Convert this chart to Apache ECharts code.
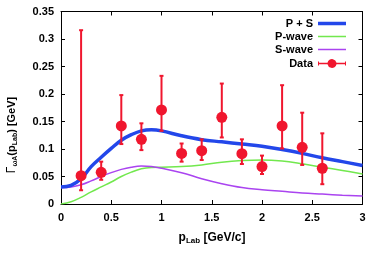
<!DOCTYPE html>
<html><head><meta charset="utf-8">
<script src="https://cdn.jsdelivr.net/npm/echarts@6/dist/echarts.min.js"></script>
<style>html,body{margin:0;padding:0;background:#fff}#c{width:381px;height:260px}</style>
</head><body><div id="c"></div>
<script>
const curveX = [0,0.1,0.2,0.3,0.4,0.5,0.6,0.7,0.8,0.9,1.0,1.2,1.4,1.6,1.8,2.0,2.2,2.4,2.6,2.8,3.0];
const sumWave = [0.031,0.034,0.046,0.068,0.085,0.101,0.116,0.126,0.133,0.135,0.133,0.124,0.117,0.113,0.109,0.105,0.099,0.092,0.084,0.077,0.070];
const pWave = [0.000,0.004,0.012,0.022,0.031,0.040,0.050,0.058,0.064,0.0665,0.067,0.068,0.071,0.076,0.079,0.080,0.078,0.073,0.067,0.061,0.0545];
const sWave = [0.030,0.031,0.035,0.042,0.050,0.057,0.063,0.067,0.069,0.068,0.065,0.057,0.046,0.037,0.030,0.026,0.023,0.020,0.018,0.016,0.0145];
const dataX = [0.2,0.4,0.6,0.8,1.0,1.2,1.4,1.6,1.8,2.0,2.2,2.4,2.6];
const dataY = [0.0515,0.0576,0.142,0.1176,0.171,0.092,0.097,0.1576,0.0915,0.068,0.142,0.103,0.065];
const dataLow = [0.025,0.044,0.109,0.098,0.133,0.077,0.080,0.121,0.0727,0.0545,0.101,0.071,0.036];
const dataHigh = [0.316,0.077,0.198,0.1467,0.233,0.110,0.1176,0.219,0.1176,0.088,0.216,0.166,0.1285];
const xTicks = ['0','0.5','1','1.5','2','2.5','3'];
const yTicks = ['0','0.05','0.1','0.15','0.2','0.25','0.3','0.35'];

const BLUE='#2347ea', GREEN='#72e84e', PURPLE='#aa44f0', RED='#f0162e';
const zip=(a,b)=>a.map((v,i)=>[v,b[i]]);
const font='"Liberation Sans", Arial, sans-serif';
const chart = echarts.init(document.getElementById('c'));
const axisCommon = {axisLine:{show:true,onZero:false,lineStyle:{color:'#000',width:1}},
  axisTick:{show:true,inside:true,length:4,lineStyle:{color:'#000'}},splitLine:{show:false}};
const BOX=' M0,0 L0,0.01 Z M28,10 L28,9.99 Z';
function lineIcon(t){const a=5-t/2,b=5+t/2;return 'path://M0,'+a+' L28,'+a+' L28,'+b+' L0,'+b+' Z'+BOX;}
function legendItem(name, top, icon, color){
  return {orient:'vertical',right:30,top:top,align:'right',itemWidth:28,itemHeight:10,itemGap:0,
    textStyle:{fontFamily:font,fontWeight:'bold',fontSize:11,color:'#000'},selectedMode:false,
    data:[{name:name,icon:icon,itemStyle:{color:color,opacity:1}}]};
}
chart.setOption({
  animation:false,
  grid:{left:61,right:18.5,top:11.5,bottom:56},
  xAxis:[Object.assign({type:'value',min:0,max:3,interval:0.5,
    axisLabel:{color:'#000',fontFamily:font,fontWeight:'bold',fontSize:11,margin:8,
      formatter:v=>xTicks[Math.round(v/0.5)]}},axisCommon),
    Object.assign({type:'value',position:'top',min:0,max:3,interval:0.5,axisLabel:{show:false}},axisCommon)],
  yAxis:[Object.assign({type:'value',min:0,max:0.35,interval:0.05,
    axisLabel:{color:'#000',fontFamily:font,fontWeight:'bold',fontSize:11,margin:7,
      formatter:v=>yTicks[Math.round(v/0.05)]}},axisCommon),
    Object.assign({type:'value',position:'right',min:0,max:0.35,interval:0.05,axisLabel:{show:false}},axisCommon)],
  legend:[
    legendItem('P + S',13,lineIcon(3.5),BLUE),
    legendItem('P-wave',26,lineIcon(1.6),GREEN),
    legendItem('S-wave',39,lineIcon(1.6),PURPLE),
    legendItem('Data',53,'path://M0,3 L1,3 L1,4.2 L9.5,4.2 A4.6,4.6 0 0 1 18.5,4.2 L27,4.2 L27,3 L28,3 L28,7 L27,7 L27,5.8 L18.5,5.8 A4.6,4.6 0 0 1 9.5,5.8 L1,5.8 L1,7 L0,7 Z'+BOX,RED)
  ],
  graphic:[
    {type:'text',x:12,y:135,rotation:Math.PI/2,style:{
      text:'{g|Γ}{s|ωA}{b|(p}{s|Lab}{b|) [GeV]}',align:'center',verticalAlign:'middle',
      rich:{g:{fontFamily:font,fontSize:12,fill:'#000'},b:{fontFamily:font,fontWeight:'bold',fontSize:11,fill:'#000'},
        s:{fontFamily:font,fontWeight:'bold',fontSize:7,fill:'#000',verticalAlign:'bottom',padding:[6,0,0,0]}}}},
    {type:'text',x:212,y:238,style:{
      text:'{b|p}{s|Lab}{b| [GeV/c]}',align:'center',verticalAlign:'middle',
      rich:{b:{fontFamily:font,fontWeight:'bold',fontSize:12,fill:'#000'},
        s:{fontFamily:font,fontWeight:'bold',fontSize:8,fill:'#000',padding:[6,0,0,0]}}}}
  ],
  series:[
    {name:'P-wave',type:'line',data:zip(curveX,pWave),smooth:0.4,showSymbol:false,symbol:'none',
     lineStyle:{color:GREEN,width:1.5},itemStyle:{color:GREEN},z:2},
    {name:'S-wave',type:'line',data:zip(curveX,sWave),smooth:0.4,showSymbol:false,symbol:'none',
     lineStyle:{color:PURPLE,width:1.5},itemStyle:{color:PURPLE},z:2},
    {name:'P + S',type:'line',data:zip(curveX,sumWave),smooth:0.4,showSymbol:false,symbol:'none',
     lineStyle:{color:BLUE,width:3.5},itemStyle:{color:BLUE},z:3},
    {name:'Data',type:'custom',z:5,data:dataX.map((x,i)=>[x,dataLow[i],dataHigh[i]]),
     itemStyle:{color:RED},
     renderItem:(params,api)=>{
       const lo=api.coord([api.value(0),api.value(1)]), hi=api.coord([api.value(0),api.value(2)]);
       const st={stroke:RED,lineWidth:2};
       return {type:'group',children:[
         {type:'line',shape:{x1:lo[0],y1:lo[1],x2:hi[0],y2:hi[1]},style:st},
         {type:'line',shape:{x1:lo[0]-2,y1:lo[1],x2:lo[0]+2,y2:lo[1]},style:st},
         {type:'line',shape:{x1:hi[0]-2,y1:hi[1],x2:hi[0]+2,y2:hi[1]},style:st}]};
     }},
    {name:'Data',type:'scatter',z:6,data:zip(dataX,dataY),symbol:'circle',symbolSize:11,itemStyle:{color:RED,opacity:1}}
  ]
});
</script></body></html>
